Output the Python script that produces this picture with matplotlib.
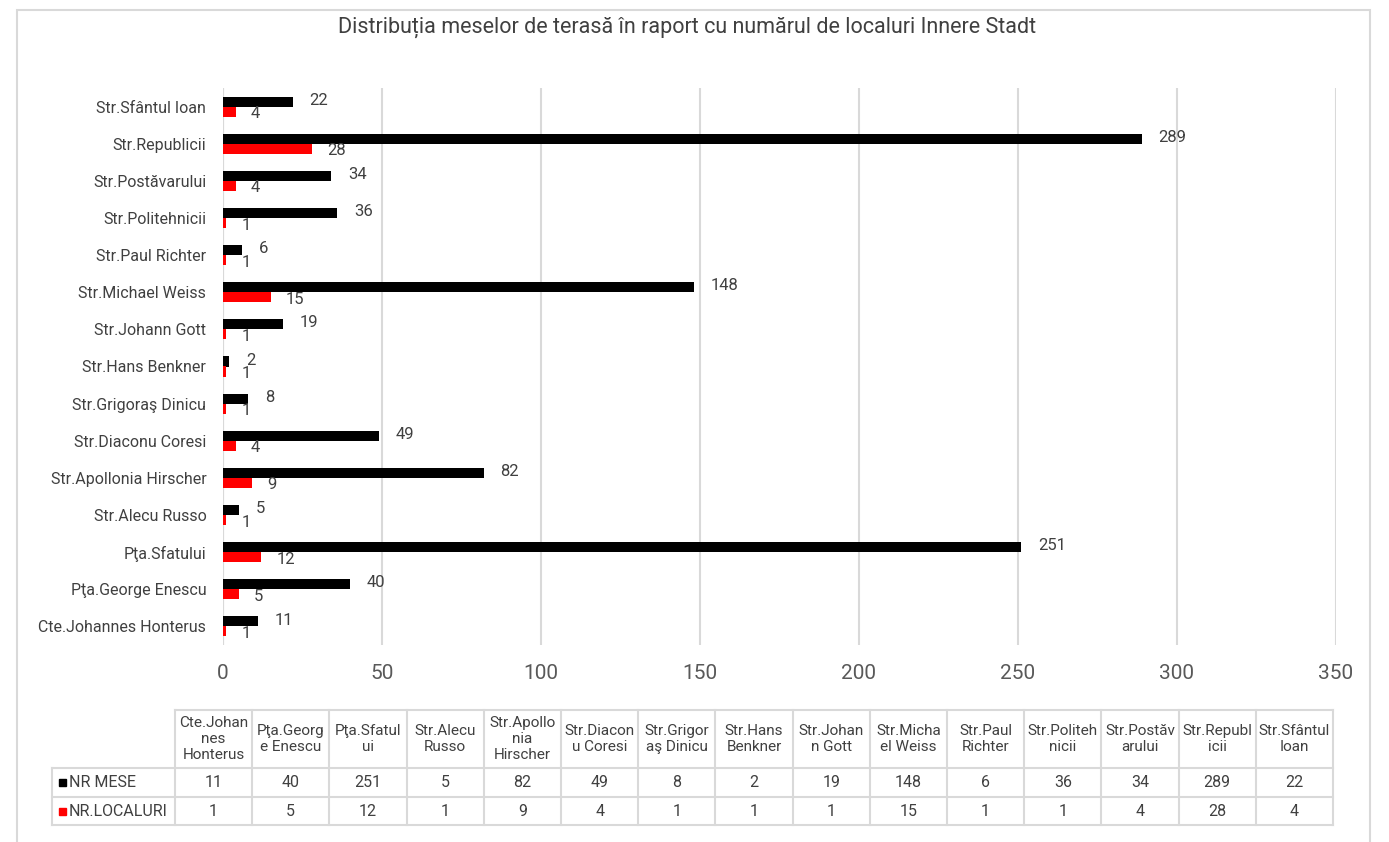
import matplotlib as mpl
import matplotlib.pyplot as plt
from matplotlib.patches import Rectangle

mpl.rcParams['font.family'] = ['Roboto', 'DejaVu Sans']

categories = ['Cte.Johannes Honterus', 'Pţa.George Enescu', 'Pţa.Sfatului', 'Str.Alecu Russo',
              'Str.Apollonia Hirscher', 'Str.Diaconu Coresi', 'Str.Grigoraş Dinicu', 'Str.Hans Benkner',
              'Str.Johann Gott', 'Str.Michael Weiss', 'Str.Paul Richter', 'Str.Politehnicii',
              'Str.Postăvarului', 'Str.Republicii', 'Str.Sfântul Ioan']
table_headers = ['Cte.Johan\nnes\nHonterus', 'Pţa.Georg\ne Enescu', 'Pţa.Sfatul\nui', 'Str.Alecu\nRusso',
                 'Str.Apollo\nnia\nHirscher', 'Str.Diacon\nu Coresi', 'Str.Grigor\naş Dinicu', 'Str.Hans\nBenkner',
                 'Str.Johan\nn Gott', 'Str.Micha\nel Weiss', 'Str.Paul\nRichter', 'Str.Politeh\nnicii',
                 'Str.Postăv\narului', 'Str.Republ\nicii', 'Str.Sfântul\nIoan']
nr_mese = [11, 40, 251, 5, 82, 49, 8, 2, 19, 148, 6, 36, 34, 289, 22]
nr_localuri = [1, 5, 12, 1, 9, 4, 1, 1, 1, 15, 1, 1, 4, 28, 4]
series_names = ['NR MESE', 'NR.LOCALURI']
series_colors = ['#000000', '#ff0000']
title = 'Distribuția meselor de terasă în raport cu numărul de localuri Innere Stadt'

W, H = 1389, 842
fig = plt.figure(figsize=(W / 100, H / 100), dpi=100)
txt = '#404040'

# outer frame
fig.patches.append(Rectangle((17 / W, -0.01), 1353 / W, 1.01 - 10 / H, transform=fig.transFigure,
                             fill=False, edgecolor='#d9d9d9', linewidth=1.5))

ax = fig.add_axes([223 / W, 1 - 645 / H, 1113 / W, 557 / H])
y = list(range(len(categories)))
bh = 0.27
ax.barh([v + bh / 2 for v in y], nr_mese, height=bh, color=series_colors[0], zorder=3)
ax.barh([v - bh / 2 for v in y], nr_localuri, height=bh, color=series_colors[1], zorder=3)

for i in y:
    ax.annotate(str(nr_mese[i]), (nr_mese[i], i + bh / 2), xytext=(12, 1), textcoords='offset points',
                va='center', ha='left', fontsize=12, color=txt)
    ax.annotate(str(nr_localuri[i]), (nr_localuri[i], i - bh / 2), xytext=(11, -1.5), textcoords='offset points',
                va='center', ha='left', fontsize=12, color=txt)

ax.set_xlim(0, 350)
ax.set_ylim(-0.5, 14.5)
ax.set_xticks(range(0, 351, 50))
ax.set_yticks(y)
ax.set_yticklabels(categories, fontsize=11.5, color=txt)
ax.tick_params(axis='x', labelsize=15, colors='#595959', length=0, pad=14)
ax.tick_params(axis='y', length=0, pad=12)
ax.grid(axis='x', color='#d9d9d9', linewidth=1.5, zorder=0)
for s in ax.spines.values():
    s.set_visible(False)
ax.axvline(0, color='#d9d9d9', linewidth=1.5, zorder=1)

fig.text(687 / W, 1 - 27 / H, title, ha='center', va='center', fontsize=15.5, color=txt)

# data table
tx0, tx1 = 52, 1333
c0 = 175
rows = [710, 768, 797, 825]
tab = fig.add_axes([tx0 / W, 1 - rows[-1] / H, (tx1 - tx0) / W, (rows[-1] - rows[0]) / H])
tab.set_xlim(tx0, tx1)
tab.set_ylim(rows[-1], rows[0])
tab.axis('off')
n = len(categories)
cw = (tx1 - c0) / n
lc = '#d9d9d9'
# horizontal lines
tab.plot([c0, tx1], [rows[0], rows[0]], color=lc, lw=1.5, clip_on=False)
for r in rows[1:]:
    tab.plot([tx0, tx1], [r, r], color=lc, lw=1.5, clip_on=False)
# vertical lines
tab.plot([tx0, tx0], [rows[1], rows[3]], color=lc, lw=1.5, clip_on=False)
for k in range(n + 1):
    xk = c0 + k * cw
    tab.plot([xk, xk], [rows[0], rows[3]], color=lc, lw=1.5, clip_on=False)
for k in range(n):
    xc = c0 + (k + 0.5) * cw
    tab.text(xc, (rows[0] + rows[1]) / 2, table_headers[k], ha='center', va='center',
             fontsize=11, color=txt, linespacing=1.15)
    tab.text(xc, (rows[1] + rows[2]) / 2, str(nr_mese[k]), ha='center', va='center', fontsize=11.5, color=txt)
    tab.text(xc, (rows[2] + rows[3]) / 2, str(nr_localuri[k]), ha='center', va='center', fontsize=11.5, color=txt)
for j, (name, col) in enumerate(zip(series_names, series_colors)):
    yc = (rows[j + 1] + rows[j + 2]) / 2
    tab.add_patch(Rectangle((59, yc - 3.5), 7, 7, color=col, clip_on=False))
    tab.text(69, yc, name, ha='left', va='center', fontsize=11.5, color=txt)

fig.savefig('out.png', dpi=100, facecolor='white')
